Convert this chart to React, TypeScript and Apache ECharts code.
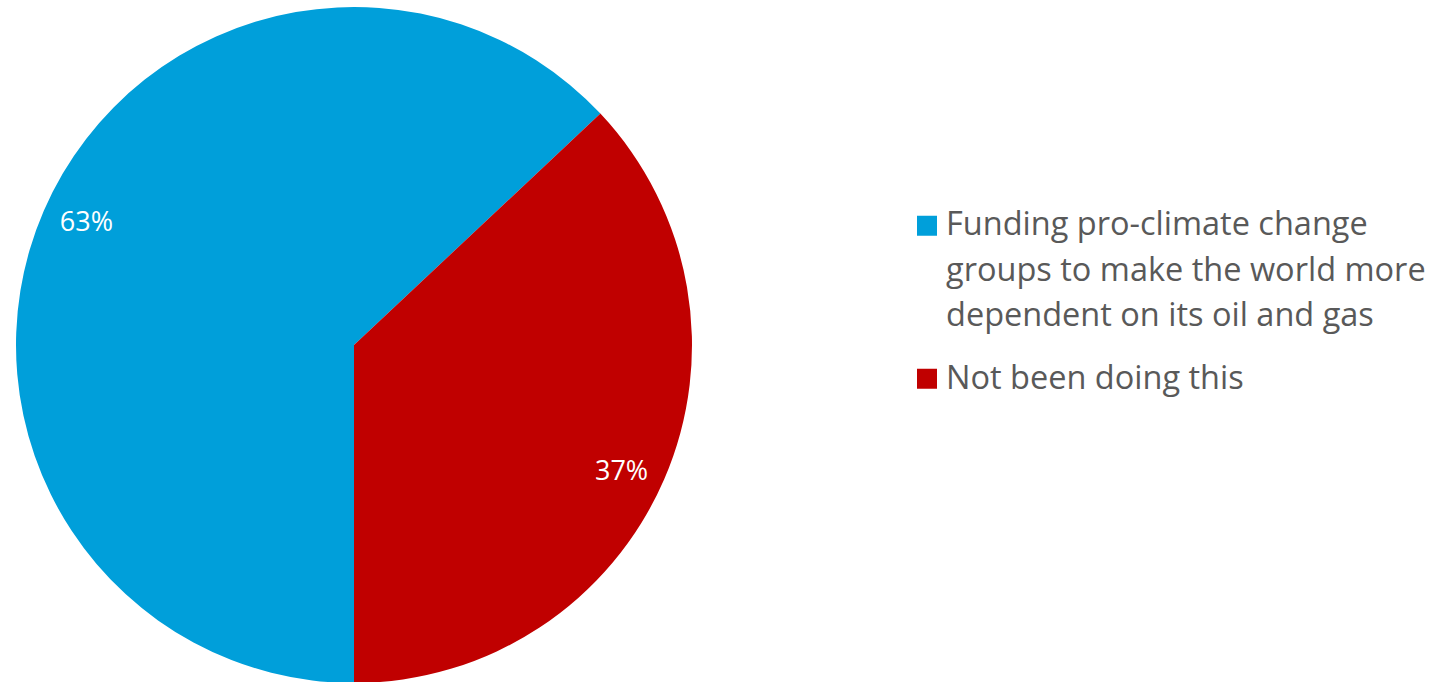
import React, { useEffect, useRef } from "react";
import * as echarts from "echarts";

const categories = [
  "Funding pro-climate change groups to make the world more dependent on its oil and gas",
  "Not been doing this",
];
const legendLines = [
  ["Funding pro-climate change", "groups to make the world more", "dependent on its oil and gas"],
  ["Not been doing this"],
];
const values = [63, 37];
const colors = ["#009FDA", "#C00000"];

const FONT = "Open Sans";

export default function App() {
  const ref = useRef<HTMLDivElement>(null);
  useEffect(() => {
    if (!ref.current) return;
    const chart = echarts.init(ref.current, undefined, { renderer: "svg" });
    const data = categories.map((name, i) => ({
      name,
      value: values[i],
      itemStyle: { color: colors[i] },
    }));
    const richT = {
      t: {
        fontFamily: FONT,
        fontSize: 32.5,
        lineHeight: 45.5,
        color: "#595959",
      },
    };
    chart.setOption({
      animation: false,
      backgroundColor: "#ffffff",
      legend: {
        orient: "vertical",
        left: 912,
        top: 105,
        icon: "rect",
        itemWidth: 20,
        itemHeight: 20,
        itemGap: 12,
        formatter: (name: string) =>
          legendLines[categories.indexOf(name)].map((l) => "{t|" + l + "}").join("\n"),
        textStyle: {
          fontFamily: FONT,
          fontSize: 32.5,
          lineHeight: 45.5,
          color: "#595959",
          rich: richT,
        },
        data: [
          {
            name: categories[0],
            textStyle: { padding: [90, 0, 5, 4], rich: richT },
          },
          {
            name: categories[1],
            textStyle: { padding: [0, 0, 5, 4], rich: richT },
          },
        ],
      },
      series: [
        {
          type: "pie",
          center: [354, 345],
          radius: 338,
          startAngle: -90,
          clockwise: true,
          label: { show: false },
          labelLine: { show: false },
          emphasis: { disabled: true },
          data,
        },
        {
          type: "pie",
          center: [354, 345],
          radius: [246, 338],
          startAngle: -91.5,
          clockwise: true,
          silent: true,
          itemStyle: { color: "transparent" },
          label: {
            show: true,
            position: "inside",
            formatter: "{c}%",
            color: "#ffffff",
            fontFamily: FONT,
            fontSize: 27,
          },
          labelLine: { show: false },
          emphasis: { disabled: true },
          data: categories.map((name, i) => ({
            name,
            value: values[i],
            itemStyle: { color: "transparent" },
          })),
        },
      ],
    });
    return () => chart.dispose();
  }, []);
  return (
    <div
      ref={ref}
      style={{ position: "absolute", left: 0, top: 0, width: 1434, height: 682 }}
    />
  );
}
